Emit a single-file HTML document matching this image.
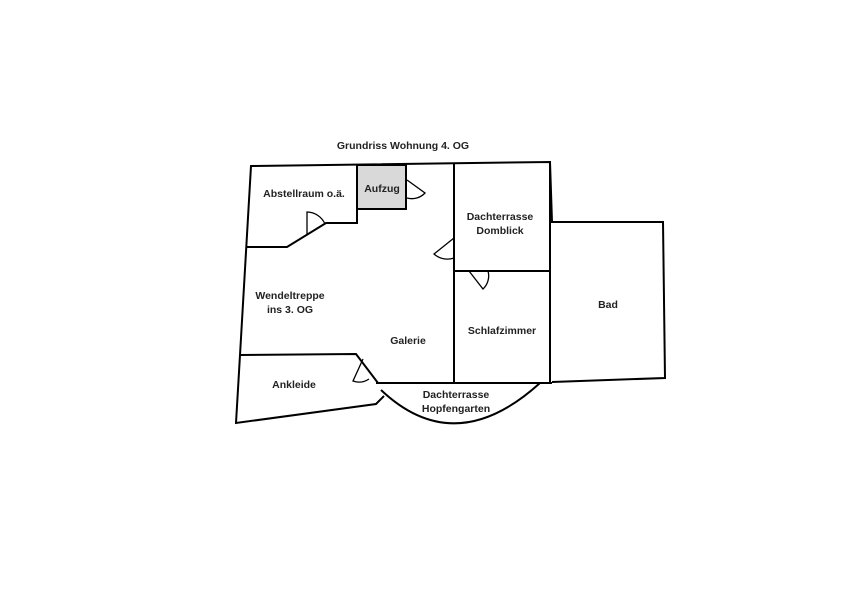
<!DOCTYPE html>
<html><head><meta charset="utf-8"><style>
body{margin:0;background:#fff;width:841px;height:595px;overflow:hidden}
svg text{font-family:"Liberation Sans",sans-serif;font-size:10.5px;font-weight:bold;fill:#222;text-anchor:middle}
</style></head><body>
<svg width="841" height="595" viewBox="0 0 841 595" fill="none" stroke="#000" stroke-width="2">
<rect x="357" y="165" width="49" height="44" fill="#d9d9d9"/>
<polyline points="552,222 550,162 251,166 240,355 236,423 376,404 384,396"/>
<polyline points="357,165 357,223 326,223 287,247 247,247"/>
<polyline points="240,355 356,354 378,383"/>
<line x1="454" y1="164" x2="454" y2="383"/>
<line x1="550" y1="162" x2="550" y2="383"/>
<line x1="454" y1="271" x2="551" y2="271"/>
<line x1="376" y1="383" x2="552" y2="383"/>
<polyline points="550,222 663,222 665,378 552,382"/>
<path d="M381,390 Q455,460 540,383"/>
<g stroke-width="1.3">
<path d="M407,180 L425,193 A18,18 0 0 1 407,198"/>
<path d="M307,235 L307,212 A20,20 0 0 1 325,224"/>
<path d="M454,238 L434,254 A20,20 0 0 0 454,258"/>
<path d="M469,271 L483,289 A18,18 0 0 0 488,271"/>
<path d="M363,359 L353,381 A18,18 0 0 0 369,379"/>
</g>
<g stroke="none">
<text x="403" y="149">Grundriss Wohnung 4. OG</text>
<text x="304" y="197">Abstellraum o.ä.</text>
<text x="382" y="192">Aufzug</text>
<text x="500" y="220">Dachterrasse</text>
<text x="500" y="234">Domblick</text>
<text x="290" y="299">Wendeltreppe</text>
<text x="290" y="313">ins 3. OG</text>
<text x="408" y="344">Galerie</text>
<text x="502" y="334">Schlafzimmer</text>
<text x="608" y="308">Bad</text>
<text x="294" y="388">Ankleide</text>
<text x="456" y="398">Dachterrasse</text>
<text x="456" y="412">Hopfengarten</text>
</g>
</svg>
</body></html>
